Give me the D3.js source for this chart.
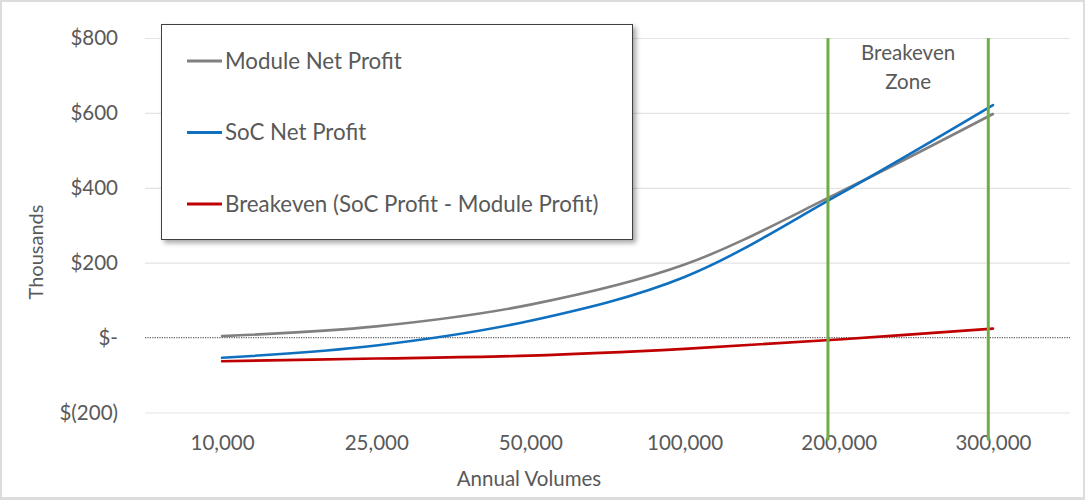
<!DOCTYPE html>
<html>
<head>
<meta charset="utf-8">
<script src="https://cdn.jsdelivr.net/npm/d3@7"></script>
<style>
  html, body { margin: 0; padding: 0; background: #dcdcdc; }
  svg { display: block; }
  text { font-family: Lato, "Open Sans", sans-serif; fill: #595959; }
</style>
</head>
<body>
<svg id="chart" width="1085" height="500"></svg>
<script>
"use strict";

// data (values in thousands of $)
var categories = ["10,000", "25,000", "50,000", "100,000", "200,000", "300,000"];
var moduleProfit = [4, 30, 88, 195, 387, 597];
var socProfit = [-54, -21, 45, 162, 382, 621];
var breakeven = [-63, -56, -48, -30, -5, 24];
var yTicks = [-200, 0, 200, 400, 600, 800];
var seriesNames = ["Module Net Profit", "SoC Net Profit", "Breakeven (SoC Profit - Module Profit)"];
var seriesColors = ["#808080", "#0f70c0", "#c00000"];
// breakeven zone edges, in category steps from the first category
var zoneEdges = [3.93, 4.97];

var W = 1085, H = 500;
var plot = {left: 145, right: 1070, top: 38, bottom: 412.5};

var svg = d3.select("#chart");

var defs = svg.append("defs");
var shadow = defs.append("filter").attr("id", "shadow")
  .attr("x", "-5%").attr("y", "-5%").attr("width", "115%").attr("height", "120%");
shadow.append("feDropShadow")
  .attr("dx", 3).attr("dy", 3).attr("stdDeviation", 2.5)
  .attr("flood-color", "#000").attr("flood-opacity", 0.35);

// frame
svg.append("rect")
  .attr("x", 2).attr("y", 2).attr("width", W - 4).attr("height", H - 5)
  .attr("fill", "#fff");

var x = d3.scalePoint()
  .domain(categories)
  .range([plot.left, plot.right])
  .padding(0.5);

var y = d3.scaleLinear()
  .domain([-200, 800])
  .range([plot.bottom, plot.top]);

function fmt(v){
  if(v === 0) return "$-";
  if(v < 0) return "$(" + d3.format(",")(-v) + ")";
  return "$" + d3.format(",")(v);
}

// gridlines + y labels
var yAxis = svg.append("g")
  .attr("transform", "translate(" + plot.left + ",0)")
  .call(d3.axisLeft(y).tickValues(yTicks).tickSize(-(plot.right - plot.left)).tickFormat(fmt).tickPadding(27));
yAxis.select(".domain").remove();
yAxis.selectAll(".tick line")
  .attr("stroke", function(d){ return d === 0 ? "none" : "#e3e3e3"; })
  .attr("stroke-width", 1.2);
yAxis.selectAll(".tick text")
  .attr("font-size", 20.5)
  .attr("fill", "#595959")
  .style("font-family", "Lato, sans-serif");

// zero line (dotted)
svg.append("line")
  .attr("x1", plot.left).attr("x2", plot.right)
  .attr("y1", y(0)).attr("y2", y(0))
  .attr("stroke", "#606060")
  .attr("stroke-width", 1.2)
  .attr("stroke-dasharray", "1.2,1.2");

// x labels
var xAxis = svg.append("g")
  .attr("transform", "translate(0," + plot.bottom + ")")
  .call(d3.axisBottom(x).tickSize(0).tickPadding(23));
xAxis.select(".domain").remove();
xAxis.selectAll(".tick text")
  .attr("font-size", 20.5)
  .attr("fill", "#595959")
  .style("font-family", "Lato, sans-serif");

// axis titles
svg.append("text")
  .attr("x", 529).attr("y", 486)
  .attr("text-anchor", "middle")
  .attr("font-size", 20.5)
  .text("Annual Volumes");

svg.append("text")
  .attr("transform", "translate(43,252) rotate(-90)")
  .attr("text-anchor", "middle")
  .attr("font-size", 20)
  .text("Thousands");

// series
var line = d3.line()
  .x(function(d, i){ return x(categories[i]); })
  .y(function(d){ return y(d); })
  .curve(d3.curveCatmullRom.alpha(0.5));

var series = [moduleProfit, socProfit, breakeven];
svg.append("g").selectAll("path")
  .data(series)
  .enter().append("path")
  .attr("d", line)
  .attr("fill", "none")
  .attr("stroke", function(d, i){ return seriesColors[i]; })
  .attr("stroke-width", 2.6)
  .attr("stroke-linecap", "round");

// breakeven zone
var step = x.step();
svg.append("g").selectAll("line")
  .data(zoneEdges)
  .enter().append("line")
  .attr("x1", function(d){ return x(categories[0]) + d * step; })
  .attr("x2", function(d){ return x(categories[0]) + d * step; })
  .attr("y1", plot.top)
  .attr("y2", plot.bottom + 28)
  .attr("stroke", "#70ad47")
  .attr("stroke-width", 3);

var zoneX = x(categories[0]) + d3.mean(zoneEdges) * step;
var zoneLabel = svg.append("text")
  .attr("text-anchor", "middle")
  .attr("font-size", 20.5)
  .attr("fill", "#404040");
zoneLabel.append("tspan").attr("x", zoneX).attr("y", 60).text("Breakeven");
zoneLabel.append("tspan").attr("x", zoneX).attr("y", 89).text("Zone");

// legend
var legend = svg.append("g");
legend.append("rect")
  .attr("x", 161.5).attr("y", 24.5)
  .attr("width", 471).attr("height", 215)
  .attr("fill", "#fff")
  .attr("stroke", "#404040")
  .attr("stroke-width", 1)
  .attr("filter", "url(#shadow)");

var legendRows = legend.selectAll("g.row")
  .data(seriesNames)
  .enter().append("g")
  .attr("class", "row")
  .attr("transform", function(d, i){ return "translate(187," + (61 + i * 71.5) + ")"; });

legendRows.append("line")
  .attr("x1", 0).attr("x2", 35)
  .attr("y1", 0).attr("y2", 0)
  .attr("stroke", function(d, i){ return seriesColors[i]; })
  .attr("stroke-width", 3);

legendRows.append("text")
  .attr("x", 38).attr("y", 0)
  .attr("dy", "0.35em")
  .attr("font-size", 22.3)
  .attr("fill", "#404040")
  .text(function(d){ return d; });
</script>
</body>
</html>
